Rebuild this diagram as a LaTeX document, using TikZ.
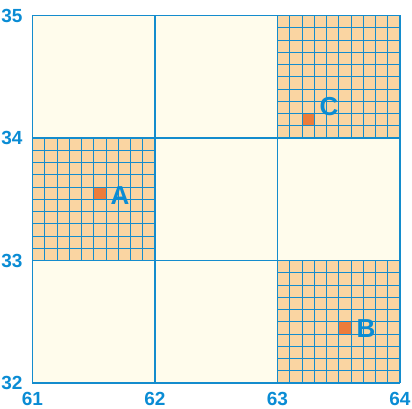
\documentclass[tikz,border=0pt]{standalone}
\usepackage{fontspec}
\setmainfont{Liberation Sans}[BoldFont={Liberation Sans Bold}]
\definecolor{cream}{RGB}{255,252,236}
\definecolor{tan}{RGB}{250,213,162}
\definecolor{mark}{RGB}{236,124,58}
\definecolor{gridblue}{RGB}{20,140,205}
\definecolor{textblue}{RGB}{10,140,212}
\tikzset{
  major/.style={draw=gridblue, line width=1.3pt},
  minor/.style={draw=gridblue, line width=0.9pt},
  axislabel/.style={text=textblue, font=\fontsize{19}{19}\selectfont\bfseries, inner sep=0pt},
  ptlabel/.style={text=textblue, font=\fontsize{26}{26}\selectfont\bfseries, inner sep=0pt},
  block/.style={fill=tan},
  marksq/.style={fill=mark}
}
\begin{document}
\begin{tikzpicture}[x=122.5pt,y=122.5pt]
\useasboundingbox (-0.2653,-0.2122) rectangle (3.098,3.1265);
\fill[cream] (0,0) rectangle (3,3);
\fill[block] (0,1) rectangle (1,2);
\fill[block] (2,2) rectangle (3,3);
\fill[block] (2,0) rectangle (3,1);
\fill[marksq] (0.5,1.5) rectangle (0.6,1.6);
\fill[marksq] (2.2,2.1) rectangle (2.3,2.2);
\fill[marksq] (2.5,0.4) rectangle (2.6,0.5);
\foreach \i in {1,...,9} {
  \draw[minor] (0.1*\i,1) -- (0.1*\i,2);
  \draw[minor] (0,1+0.1*\i) -- (1,1+0.1*\i);
  \draw[minor] (2+0.1*\i,2) -- (2+0.1*\i,3);
  \draw[minor] (2,2+0.1*\i) -- (3,2+0.1*\i);
  \draw[minor] (2+0.1*\i,0) -- (2+0.1*\i,1);
  \draw[minor] (2,0.1*\i) -- (3,0.1*\i);
}
\foreach \k in {0,...,3} {
  \draw[major] (\k,0) -- (\k,3);
  \draw[major] (0,\k) -- (3,\k);
}
\node[ptlabel] (A) at (0.714,1.527) {A};
\node[ptlabel] (C) at (2.42,2.253) {C};
\node[ptlabel] (B) at (2.722,0.441) {B};
\node[axislabel, anchor=east] (y35) at (-0.08,3) {35};
\node[axislabel, anchor=east] (y34) at (-0.08,2) {34};
\node[axislabel, anchor=east] (y33) at (-0.08,1) {33};
\node[axislabel, anchor=east] (y32) at (-0.08,0) {32};
\node[axislabel] (x61) at (0,-0.128) {61};
\node[axislabel] (x62) at (1,-0.128) {62};
\node[axislabel] (x63) at (2,-0.128) {63};
\node[axislabel] (x64) at (3,-0.128) {64};
\end{tikzpicture}
\end{document}
